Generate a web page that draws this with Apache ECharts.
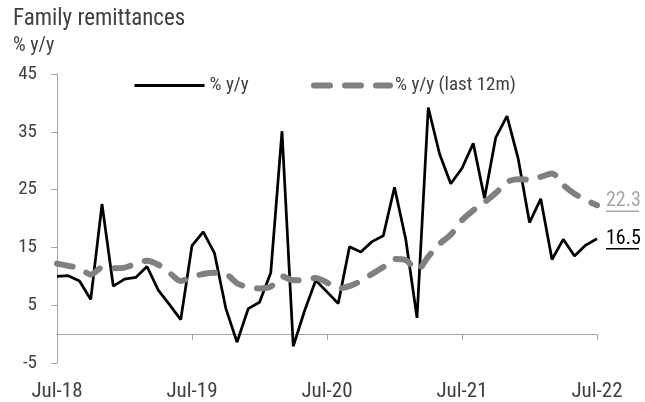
<!DOCTYPE html>
<html>
<head>
<meta charset="utf-8">
<script src="https://cdn.jsdelivr.net/npm/echarts@6/dist/echarts.min.js"></script>
<style>
  html, body { margin: 0; padding: 0; background: #fff; }
  #chart { width: 645px; height: 402px; }
</style>
</head>
<body>
<div id="chart"></div>
<script>
const months = [
  'Jul-18', 'Aug-18', 'Sep-18', 'Oct-18', 'Nov-18', 'Dec-18',
  'Jan-19', 'Feb-19', 'Mar-19', 'Apr-19', 'May-19', 'Jun-19',
  'Jul-19', 'Aug-19', 'Sep-19', 'Oct-19', 'Nov-19', 'Dec-19',
  'Jan-20', 'Feb-20', 'Mar-20', 'Apr-20', 'May-20', 'Jun-20',
  'Jul-20', 'Aug-20', 'Sep-20', 'Oct-20', 'Nov-20', 'Dec-20',
  'Jan-21', 'Feb-21', 'Mar-21', 'Apr-21', 'May-21', 'Jun-21',
  'Jul-21', 'Aug-21', 'Sep-21', 'Oct-21', 'Nov-21', 'Dec-21',
  'Jan-22', 'Feb-22', 'Mar-22', 'Apr-22', 'May-22', 'Jun-22',
  'Jul-22'
]

// monthly % y/y
const yoy = [
  10.0, 10.1, 9.2, 6.0, 22.5, 8.3,
  9.5, 9.8, 11.7, 7.6, 5.1, 2.5,
  15.3, 17.7, 14.0, 4.5, -1.4, 4.4,
  5.5, 10.6, 35.1, -2.1, 4.0, 9.3,
  7.3, 5.3, 15.1, 14.2, 16.0, 17.0,
  25.4, 16.4, 2.8, 39.2, 31.2, 26.0,
  28.7, 33.0, 23.5, 34.0, 37.7, 30.3,
  19.3, 23.4, 12.9, 16.4, 13.5, 15.4,
  16.5
]

// % y/y, last 12 months
const yoy12m = [
  12.2, 11.8, 11.4, 10.3, 11.5, 11.4,
  11.5, 12.2, 12.7, 12.0, 10.6, 9.2,
  9.9, 10.4, 10.6, 10.4, 8.8, 8.1,
  7.9, 8.2, 10.0, 9.3, 9.3, 9.7,
  8.9, 7.9, 8.3, 9.2, 10.4, 11.6,
  13.0, 12.8, 11.1, 13.4, 15.6, 17.2,
  19.7, 21.4, 22.8, 24.4, 26.3, 26.8,
  26.7, 27.2, 27.8, 25.8, 24.3, 23.2,
  22.3
]

const yTicks = [-5, 5, 15, 25, 35, 45]

const font = "'Liberation Sans Narrow', 'Roboto Condensed', 'DejaVu Sans Condensed', sans-serif"
const textColor = '#404040'
const axisColor = '#a6a6a6'
const dashGray = '#808080'
const labelGray = '#a6a6a6'

const chart = echarts.init(document.getElementById('chart'))

// end label: value with a thin rule under it
function endLabel(color, offsetY) {
  return {
    show: true,
    distance: 9,
    offset: [0, offsetY],
    formatter: p => '{v|' + p.value.toFixed(1) + '}\n{u|}',
    rich: {
      v: { fontFamily: font, fontSize: 20, color: color, lineHeight: 18 },
      u: { width: 33, height: 1.5, backgroundColor: color, lineHeight: 2 }
    }
  }
}

const option = {
  animation: false,
  textStyle: { fontFamily: font },
  title: {
    text: 'Family remittances',
    subtext: '% y/y',
    left: 8,
    top: 3,
    itemGap: 5,
    textStyle: { fontFamily: font, fontSize: 23, fontWeight: 'normal', color: textColor },
    subtextStyle: { fontFamily: font, fontSize: 20, color: textColor }
  },
  legend: [
    {
      data: ['% y/y'],
      left: 128,
      top: 71,
      itemWidth: 70,
      itemHeight: 14,
      itemGap: 5,
      itemStyle: { opacity: 0 },
      lineStyle: { width: 3 },
      textStyle: { fontFamily: font, fontSize: 19, color: textColor }
    },
    {
      data: ['% y/y (last 12m)'],
      left: 306,
      top: 71,
      itemWidth: 76,
      itemHeight: 14,
      itemGap: 5,
      itemStyle: { opacity: 0 },
      lineStyle: { width: 6, type: [16, 15], cap: 'round' },
      textStyle: { fontFamily: font, fontSize: 19, color: textColor }
    }
  ],
  grid: {
    left: 57,
    right: 48,
    top: 74,
    bottom: 39
  },
  xAxis: [
    {
      type: 'category',
      data: months,
      boundaryGap: false,
      axisLine: { onZero: true, lineStyle: { color: axisColor, width: 1 } },
      axisTick: { show: true, interval: 11, length: 6, lineStyle: { color: axisColor } },
      axisLabel: { show: false },
      splitLine: { show: false }
    },
    {
      type: 'category',
      data: months,
      position: 'bottom',
      boundaryGap: false,
      axisLine: { show: false, onZero: false },
      axisTick: { show: false },
      axisLabel: {
        interval: 11,
        margin: 18,
        fontFamily: font,
        fontSize: 21,
        color: textColor
      },
      splitLine: { show: false }
    }
  ],
  yAxis: {
    type: 'value',
    min: -5,
    max: 45,
    axisLine: { show: true, lineStyle: { color: axisColor, width: 1 } },
    axisTick: { show: true, length: 6, customValues: yTicks, lineStyle: { color: axisColor } },
    axisLabel: {
      customValues: yTicks,
      margin: 20,
      fontFamily: font,
      fontSize: 19,
      color: textColor
    },
    splitLine: { show: false }
  },
  series: [
    {
      name: '% y/y',
      type: 'line',
      xAxisIndex: 0,
      data: yoy,
      symbol: 'none',
      lineStyle: { color: '#000', width: 2.75 },
      itemStyle: { color: '#000' },
      endLabel: endLabel('#000', 1)
    },
    {
      name: '% y/y (last 12m)',
      type: 'line',
      xAxisIndex: 0,
      data: yoy12m,
      symbol: 'none',
      smooth: 0.3,
      lineStyle: { color: dashGray, width: 6, type: [16, 15], cap: 'round' },
      itemStyle: { color: dashGray },
      endLabel: endLabel(labelGray, -3)
    }
  ]
}

chart.setOption(option)
</script>
</body>
</html>
